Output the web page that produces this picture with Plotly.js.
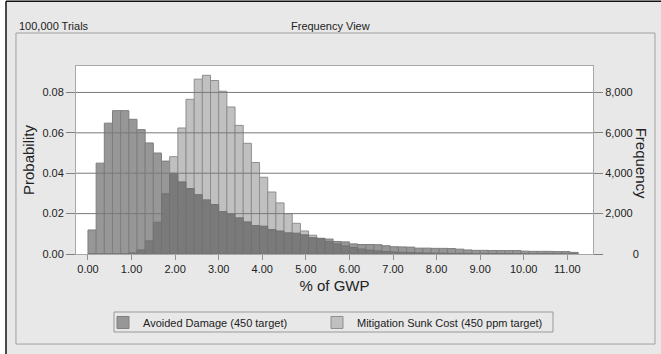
<!DOCTYPE html>
<html>
<head>
<meta charset="utf-8">
<script src="https://cdn.plot.ly/plotly-3.0.1.min.js"></script>
<style>
html,body{margin:0;padding:0;background:#e8e8e8;}
#chart{width:661px;height:354px;}
</style>
</head>
<body>
<div id="chart"></div>
<script>
// ---- data ----
const trials = 100000;
const binWidth = 0.1875;            // % of GWP per histogram bin
const seriesNames = ["Avoided Damage (450 target)", "Mitigation Sunk Cost (450 ppm target)"];
const avoidedDamage = [
  0.0119, 0.0450, 0.0648, 0.0710, 0.0710, 0.0667, 0.0616, 0.0550, 0.0500, 0.0460,
  0.0400, 0.0357, 0.0324, 0.0294, 0.0268, 0.0245, 0.0210, 0.0199, 0.0179, 0.0159,
  0.0141, 0.0138, 0.0121, 0.0114, 0.0105, 0.0103, 0.0095, 0.0081, 0.0078, 0.0074,
  0.0062, 0.0060, 0.0050, 0.0047, 0.0047, 0.0046, 0.0041, 0.0036, 0.0035, 0.0034,
  0.0029, 0.0029, 0.0028, 0.0028, 0.0027, 0.0024, 0.0020, 0.0018, 0.0018, 0.0017,
  0.0017, 0.0017, 0.0017, 0.0014, 0.0013, 0.0013, 0.0013, 0.0012, 0.0012, 0.0008
];
const mitigationCost = [
  0, 0, 0, 0, 0, 0.0005, 0.0020, 0.0065, 0.0157, 0.0298,
  0.0482, 0.0624, 0.0766, 0.0866, 0.0885, 0.0859, 0.0806, 0.0728, 0.0637, 0.0548,
  0.0453, 0.0380, 0.0307, 0.0253, 0.0200, 0.0152, 0.0114, 0.0093, 0.0076, 0.0061,
  0.0050, 0.0040, 0.0032, 0.0024, 0.0019, 0.0015, 0.0012, 0.0010, 0.0008, 0.0007,
  0.0006, 0.0005, 0.0004, 0.0004, 0.0003, 0.0003, 0.0003, 0.0002, 0.0002, 0.0002,
  0.0002, 0.0002, 0.0001, 0.0001, 0.0001, 0.0001, 0.0001, 0.0001, 0.0001, 0.0001
];
const xTickVals = [0,1,2,3,4,5,6,7,8,9,10,11];
const xTickText = ["0.00","1.00","2.00","3.00","4.00","5.00","6.00","7.00","8.00","9.00","10.00","11.00"];
const yTickVals = [0, 0.02, 0.04, 0.06, 0.08];
const yTickText = ["0.00","0.02","0.04","0.06","0.08"];
const y2TickVals = [0, 2000, 4000, 6000, 8000];
const y2TickText = ["\u2007\u2008\u2007\u2007\u20070","2,000","4,000","6,000","8,000"];

// ---- derived ----
const binCenters = avoidedDamage.map((_, i) => (i + 0.5) * binWidth);
const overlap = avoidedDamage.map((v, i) => Math.min(v, mitigationCost[i]));
const yMax = 0.0931;

const FONT = "Liberation Sans, Arial, sans-serif";

const traces = [
  {type:"bar", name:seriesNames[0], x:binCenters, y:avoidedDamage, width:binWidth, legend:"legend",
   marker:{color:"#979797", line:{color:"#7e7e7e", width:1}}, hoverinfo:"x+y"},
  {type:"bar", name:seriesNames[1], x:binCenters, y:mitigationCost, width:binWidth, legend:"legend2",
   marker:{color:"#c0c0c0", line:{color:"#8e8e8e", width:1}}, hoverinfo:"x+y"},
  {type:"bar", name:"overlap", x:binCenters, y:overlap, width:binWidth, showlegend:false,
   marker:{color:"#7a7a7a", line:{color:"#727272", width:1}}, hoverinfo:"skip"},
  // invisible trace to activate the right-hand frequency axis
  {type:"scatter", x:[binCenters[0]], y:[0], yaxis:"y2", mode:"markers",
   marker:{opacity:0}, showlegend:false, hoverinfo:"skip"}
];

const gridShapes = yTickVals.filter(v => v > 0).map(v => ({
  type:"line", xref:"paper", yref:"y", x0:0, x1:1, y0:v, y1:v,
  line:{color:"#7a7a7a", width:1}, layer:"above"
}));

const legendCommon = {
  orientation:"h", xanchor:"left", y:-0.287, yanchor:"top",
  bgcolor:"rgba(0,0,0,0)", borderwidth:0,
  font:{family:FONT, size:11, color:"#222"}, itemwidth:30
};

const layout = {
  width:661, height:354,
  margin:{l:76, r:68, t:66, b:100, pad:0},
  paper_bgcolor:"#e8e8e8",
  plot_bgcolor:"#ffffff",
  barmode:"overlay",
  bargap:0,
  font:{family:FONT, size:11, color:"#222"},
  xaxis:{
    range:[-0.275, 11.59], tickvals:xTickVals, ticktext:xTickText,
    showgrid:false, zeroline:false, showline:true, mirror:true, linecolor:"#a8a8a8", linewidth:1,
    ticks:"outside", ticklen:5, tickcolor:"#909090",
    tickfont:{family:FONT, size:11, color:"#222"},
    title:{text:"% of GWP", font:{family:FONT, size:15, color:"#222"}, standoff:6}
  },
  yaxis:{
    range:[0, yMax], tickvals:yTickVals, ticktext:yTickText,
    showgrid:false, zeroline:false, showline:true, mirror:true, linecolor:"#a8a8a8", linewidth:1,
    ticks:"outside", ticklen:9, tickcolor:"#808080",
    tickfont:{family:FONT, size:11, color:"#222"},
    title:{text:"Probability", font:{family:FONT, size:15, color:"#222"}, standoff:4}
  },
  yaxis2:{
    overlaying:"y", side:"right",
    range:[0, yMax*trials], tickvals:y2TickVals, ticktext:y2TickText,
    showgrid:false, zeroline:false, showline:false,
    ticks:"outside", ticklen:9, tickcolor:"#808080",
    tickfont:{family:FONT, size:11, color:"#222"}
  },
  showlegend:true,
  legend:Object.assign({}, legendCommon, {x:(103-76)/517}),
  legend2:Object.assign({}, legendCommon, {x:(317-76)/517}),
  annotations:[
    {text:"Frequency", xref:"paper", yref:"paper", x:1.0955, y:0.484, textangle:90,
     xanchor:"center", yanchor:"middle",
     showarrow:false, font:{family:FONT, size:15, color:"#222"}},
    {text:"100,000 Trials", xref:"paper", yref:"paper", x:-0.1141, y:1.2553, xanchor:"left",
     showarrow:false, font:{family:FONT, size:11, color:"#222"}},
    {text:"Frequency View", xref:"paper", yref:"paper", x:0.4932, y:1.2553, xanchor:"center",
     showarrow:false, font:{family:FONT, size:11, color:"#222"}}
  ],
  shapes:[
    // window white margin and black frame
    {type:"rect", xref:"paper", yref:"paper", x0:-0.16, x1:-0.1354, y0:-0.55, y1:1.36,
     fillcolor:"#ffffff", line:{width:0}, layer:"below"},
    {type:"rect", xref:"paper", yref:"paper", x0:-0.16, x1:1.14, y0:1.345, y1:1.36,
     fillcolor:"#ffffff", line:{width:0}, layer:"below"},
    {type:"line", xref:"paper", yref:"paper", x0:-0.1354, x1:-0.1354, y0:-0.55, y1:1.345,
     line:{color:"#111111", width:1.5}},
    {type:"line", xref:"paper", yref:"paper", x0:-0.1354, x1:1.14, y0:1.345, y1:1.345,
     line:{color:"#111111", width:1.5}},
    // inner sunken panel
    {type:"rect", xref:"paper", yref:"paper", x0:-0.1161, x1:1.1199, y0:-0.479, y1:1.1755,
     line:{color:"#a0a0a0", width:1}, fillcolor:"rgba(0,0,0,0)", layer:"below"},
    // legend frame enclosing both legend groups
    {type:"rect", xref:"paper", yref:"paper",
     x0:(114-76)/517, x1:(553-76)/517, y0:(254-332)/188, y1:(254-312)/188,
     line:{color:"#999999", width:1}, fillcolor:"rgba(0,0,0,0)", layer:"below"}
  ].concat(gridShapes)
};

Plotly.newPlot("chart", traces, layout, {displayModeBar:false, staticPlot:true});
</script>
</body>
</html>
